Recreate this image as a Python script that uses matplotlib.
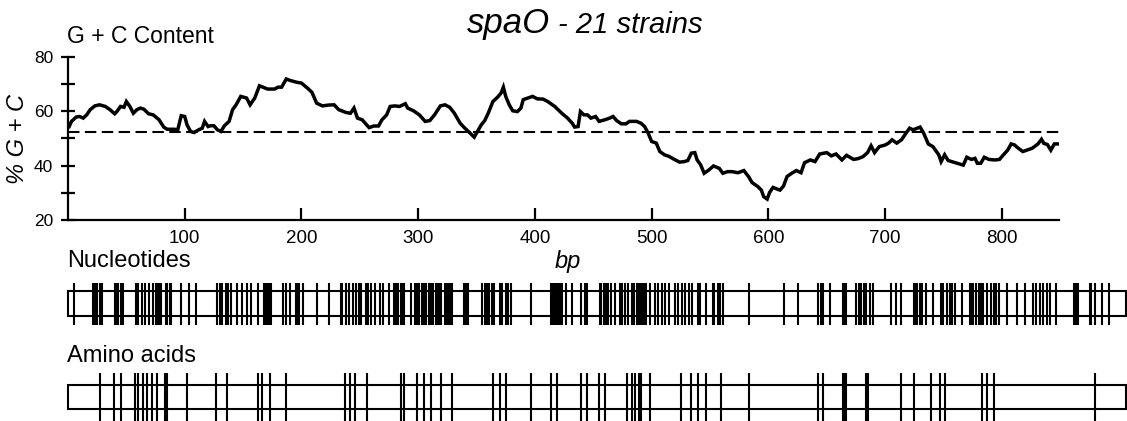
import numpy as np
import matplotlib
matplotlib.use("Agg")
import matplotlib.pyplot as plt
from matplotlib.patches import Rectangle

plt.rcParams['font.family'] = ['Liberation Sans', 'DejaVu Sans']

# G + C content (sliding window)
gc_bp = [1, 3, 7, 10, 13, 16, 19, 23, 27, 32, 36, 40, 42, 45, 48, 50, 53, 56, 59, 62,
         65, 69, 73, 78, 82, 85, 91, 94, 97, 100, 102, 105, 108, 112, 115, 117, 120, 122, 125, 128,
         131, 134, 138, 141, 144, 148, 153, 156, 160, 164, 167, 171, 177, 180, 183, 187, 190, 196, 200, 205,
         209, 213, 218, 223, 228, 232, 238, 242, 245, 248, 252, 258, 262, 266, 269, 273, 276, 280, 284, 289,
         291, 296, 301, 306, 310, 314, 319, 323, 327, 331, 336, 340, 344, 348, 350, 354, 357, 360, 364, 368,
         371, 373, 375, 378, 381, 385, 388, 390, 394, 398, 402, 407, 411, 417, 423, 428, 432, 434, 437, 439,
         442, 445, 448, 452, 455, 460, 464, 467, 470, 474, 478, 481, 487, 491, 494, 497, 500, 504, 507, 511,
         515, 519, 524, 528, 531, 534, 537, 539, 542, 545, 549, 553, 558, 561, 565, 569, 574, 579, 583, 586,
         591, 594, 596, 599, 601, 604, 608, 610, 613, 616, 620, 624, 628, 631, 636, 640, 644, 650, 654, 658,
         663, 667, 673, 677, 681, 685, 688, 691, 695, 700, 703, 706, 710, 714, 718, 721, 724, 730, 733, 737,
         741, 746, 748, 751, 754, 760, 764, 767, 770, 774, 777, 779, 782, 785, 789, 794, 798, 801, 805, 808,
         811, 813, 818, 822, 826, 831, 834, 836, 839, 842, 845, 849]
gc_pct = [54.4, 56.3, 57.9, 58.1, 57.5, 58.7, 60.6, 62.0, 62.4, 61.8, 60.6, 59.1, 60.0, 61.8, 61.5, 63.6, 61.8, 59.3, 60.6, 61.2,
          60.8, 59.1, 58.7, 56.9, 54.2, 53.4, 53.4, 53.2, 58.4, 58.1, 55.0, 52.6, 52.2, 53.2, 53.8, 56.3, 54.4, 54.7, 54.7, 53.2,
          52.6, 54.7, 56.3, 60.6, 62.4, 65.5, 64.9, 62.4, 64.9, 69.4, 68.9, 68.2, 68.2, 68.9, 68.9, 71.9, 71.4, 70.7, 70.4, 68.6,
          67.0, 63.0, 62.0, 62.3, 62.4, 60.6, 59.6, 59.3, 61.2, 57.5, 56.9, 54.0, 54.6, 54.6, 56.9, 58.7, 61.8, 62.0, 61.8, 62.8,
          61.2, 60.2, 58.7, 56.3, 56.6, 58.7, 62.0, 62.4, 61.5, 59.3, 55.6, 53.8, 52.2, 50.5, 52.0, 55.0, 56.6, 59.3, 63.6, 65.2,
          66.7, 68.9, 65.5, 62.4, 60.2, 59.9, 61.2, 64.3, 64.9, 65.5, 64.6, 64.5, 63.6, 61.8, 59.3, 57.5, 55.6, 54.2, 54.4, 59.9,
          58.7, 58.7, 57.5, 58.1, 56.3, 56.9, 57.5, 58.1, 56.6, 55.4, 55.4, 56.3, 56.3, 55.6, 54.4, 52.0, 48.9, 48.3, 45.2, 44.0,
          43.4, 42.4, 41.3, 41.5, 41.9, 44.6, 44.8, 42.1, 40.3, 37.2, 38.4, 39.9, 39.0, 37.2, 37.8, 37.8, 37.4, 38.2, 36.0, 33.8,
          32.3, 31.0, 28.6, 27.7, 30.1, 32.0, 31.3, 31.0, 32.5, 36.0, 37.2, 38.2, 37.4, 41.1, 42.1, 41.5, 44.3, 44.8, 43.6, 44.3,
          42.1, 43.8, 42.3, 42.6, 43.3, 44.8, 47.3, 44.8, 47.0, 47.6, 48.3, 49.5, 48.3, 49.5, 52.0, 53.8, 53.2, 54.2, 52.0, 48.0,
          47.0, 44.0, 41.5, 44.0, 41.9, 41.1, 40.6, 40.2, 43.1, 42.3, 42.7, 40.9, 40.9, 43.1, 42.3, 42.1, 42.3, 43.8, 45.7, 48.0,
          47.6, 46.8, 45.2, 45.8, 46.4, 48.0, 49.7, 48.2, 47.8, 45.7, 48.0, 48.0]
gc_mean = 52.3
gene_len = 907

# polymorphic sites (bp)
nuc_sites = [5, 21, 23, 25, 27, 29, 40, 42, 43, 45, 47, 58, 60, 63, 66, 69, 73, 75, 77, 78, 80, 84, 85, 87, 88,
             97, 104, 110, 128, 130, 132, 135, 137, 140, 145, 149, 153, 157, 163, 168, 169, 170, 171, 173, 174,
             184, 187, 190, 195, 197, 198, 201, 213, 224, 234, 235, 238, 241, 244, 247, 249, 251, 255, 256, 257,
             260, 263, 267, 270, 275, 279, 280, 281, 282, 283, 285, 286, 288, 294, 297, 299,
             301, 303, 305, 307, 309, 311, 313, 315, 317, 319, 320, 323, 325, 326, 327, 329, 339, 341, 343,
             355, 357, 358, 360, 361, 363, 365, 370, 372, 375, 377, 380, 397, 414, 416, 417, 418, 420, 422, 423,
             427, 432, 440, 443, 445, 456, 457, 459, 460, 462, 463, 465, 469, 473, 475, 477, 480, 483, 485,
             488, 489, 490, 492, 493, 494, 495, 499, 503, 506, 509, 512, 515, 520, 523, 526, 529, 532, 535,
             540, 541, 542, 547, 553, 554, 557, 559, 561, 584,
             614, 626, 643, 645, 647, 653, 664, 665, 666, 667, 675, 678, 680, 682, 684, 687, 690, 705, 710, 714,
             725, 726, 727, 728, 730, 731, 732, 735, 741, 748, 749, 750, 753, 756, 758, 760, 766,
             773, 775, 776, 778, 781, 782, 783, 784, 788, 791, 794, 795, 798, 805, 813, 820, 827, 830, 833,
             836, 839, 842, 847, 862, 863, 865, 866, 876, 877, 880, 886, 892]
aa_sites = [27, 39, 45, 57, 60, 64, 68, 72, 76, 83, 84, 85, 102, 127, 136, 163, 166, 173, 187, 237, 242, 246,
            256, 285, 288, 299, 305, 311, 320, 329, 364, 370, 375, 397, 414, 419, 440, 445, 455, 460, 479, 483,
            486, 489, 491, 499, 525, 534, 540, 547, 560, 584, 643, 647, 664, 665, 666, 667, 684, 686, 714,
            725, 740, 747, 752, 783, 788, 794, 880]

W, H = 1127, 421
fig = plt.figure(figsize=(W / 100, H / 100), dpi=100)

# ---- G + C panel
ax = fig.add_axes([68 / W, 1 - 220 / H, (1059 - 68) / W, (220 - 57) / H])
ax.plot(gc_bp, gc_pct, color='black', lw=2.5, solid_joinstyle='miter')
ax.axhline(gc_mean, color='black', lw=1.5, linestyle=(0, (5.5, 2.6)))
ax.set_xlim(0, 849)
ax.set_ylim(20, 80)
for s in ['top', 'right']:
    ax.spines[s].set_visible(False)
for s in ['left', 'bottom']:
    ax.spines[s].set_linewidth(1.6)
ax.set_xticks(range(100, 900, 100))
ax.set_yticks(range(20, 90, 10))
ax.set_yticklabels(['20', '', '40', '', '60', '', '80'])
ax.tick_params(axis='x', direction='in', length=8.5, width=1.6, labelsize=13.5, pad=7)
ax.tick_params(axis='y', direction='inout', length=9.5, width=1.6, labelsize=12.5, pad=6)
ax.set_xlabel('bp', fontsize=17, style='italic')
ax.xaxis.set_label_coords(0.5045, -0.185)
ax.set_ylabel('% G + C', fontsize=17, style='italic')
ax.yaxis.set_label_coords(-0.039, 0.5)

fig.text(67 / W, 1 - 43 / H, 'G + C Content', fontsize=16.5, ha='left', va='baseline')
fig.text(467 / W, 1 - 33 / H, 'spaO', fontsize=25, style='italic', ha='left', va='baseline')
fig.text(558 / W, 1 - 33 / H, '- 21 strains', fontsize=21, style='italic', ha='left', va='baseline')


def strip(top_px, bot_px, box_lo, box_hi, sites, label, label_y):
    sa = fig.add_axes([68 / W, 1 - bot_px / H, (W - 68) / W, (bot_px - top_px) / H])
    sa.set_xlim(0, gene_len + 0.7)
    sa.set_ylim(0, 1)
    sa.axis('off')
    sa.add_patch(Rectangle((0, box_lo), gene_len, box_hi - box_lo, fill=False,
                           lw=1.5, edgecolor='black', clip_on=False))
    sa.vlines(sites, 0, 1, color='black', lw=1.5, clip_on=False)
    fig.text(67 / W, 1 - label_y / H, label, fontsize=17, ha='left', va='baseline')


strip(283, 325, 0.214, 0.81, nuc_sites, 'Nucleotides', 267)
strip(373, 421, 0.25, 0.75, aa_sites, 'Amino acids', 362)

fig.savefig('out.png', dpi=100)
